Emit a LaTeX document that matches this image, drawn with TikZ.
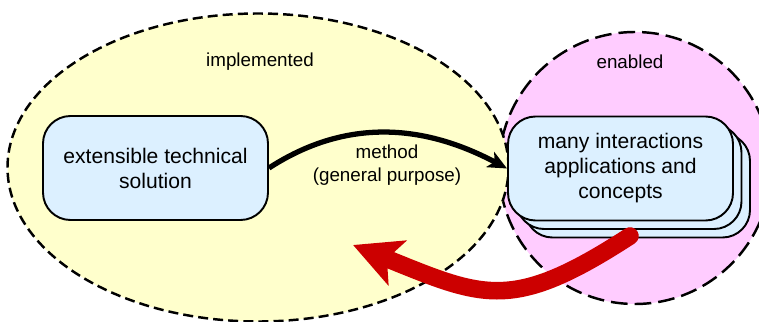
\documentclass[tikz,border=0pt]{standalone}
\usepackage{fontspec}
\setmainfont{Liberation Sans}
\usetikzlibrary{arrows.meta}

\definecolor{zoneyellow}{HTML}{FFFFCC}
\definecolor{zonepink}{HTML}{FFCCFF}
\definecolor{boxblue}{HTML}{DCF0FF}
\definecolor{flowred}{HTML}{CC0000}

\begin{document}
\begin{tikzpicture}[
  box/.style={draw, line width=1.1pt, fill=boxblue, rounded corners=0.55cm,
              minimum width=4.5cm, minimum height=2.08cm, align=center,
              font=\fontsize{12}{14.2}\selectfont},
  zone/.style={line width=1.4pt},
  lab/.style={font=\fontsize{10.7}{13.4}\selectfont, align=center},
  ]
\useasboundingbox (0,0) rectangle (15.18,-6.44);

% ---- Zones -----------------------------------------------------------------
\filldraw[zone, fill=zonepink, dash pattern=on 9.5pt off 4pt]
  (12.70,-3.36) circle (2.72);
\filldraw[zone, fill=zoneyellow, dash pattern=on 5.7pt off 2.9pt]
  (5.16,-3.35) ellipse (5.01 and 3.08);

\node[lab] (impl) at (5.20,-1.24) {implemented};
\node[lab] (enab) at (12.60,-1.24) {enabled};

% ---- Solution box ----------------------------------------------------------
\node[box] (sol) at (3.11,-3.36) {extensible technical\\solution};

% ---- Stack of applications (back to front) ---------------------------------
\node[box] (app3) at (12.75,-3.71) {};
\node[box] (app2) at (12.58,-3.54) {};
\node[box] (app) at (12.41,-3.37) {many interactions\\applications and\\concepts};

% ---- Method arrow ----------------------------------------------------------
\draw[line width=3pt, -{Stealth[length=0.38cm, width=0.34cm, inset=0.1cm]}]
  (sol.east) to[out=33, in=152] (app.west);
\node[lab] (meth) at (7.74,-3.30) {method\\(general purpose)};

% ---- Feedback arrow --------------------------------------------------------
\coordinate (back) at (12.60,-4.72);
\coordinate (into) at (7.06,-4.90);
\draw[flowred, line width=10pt, line cap=round,
      -{Stealth[length=0.95cm, width=0.95cm, inset=0.22cm]}]
  (back) to[out=213, in=-22, looseness=1.3] (into);

\end{tikzpicture}
\end{document}
